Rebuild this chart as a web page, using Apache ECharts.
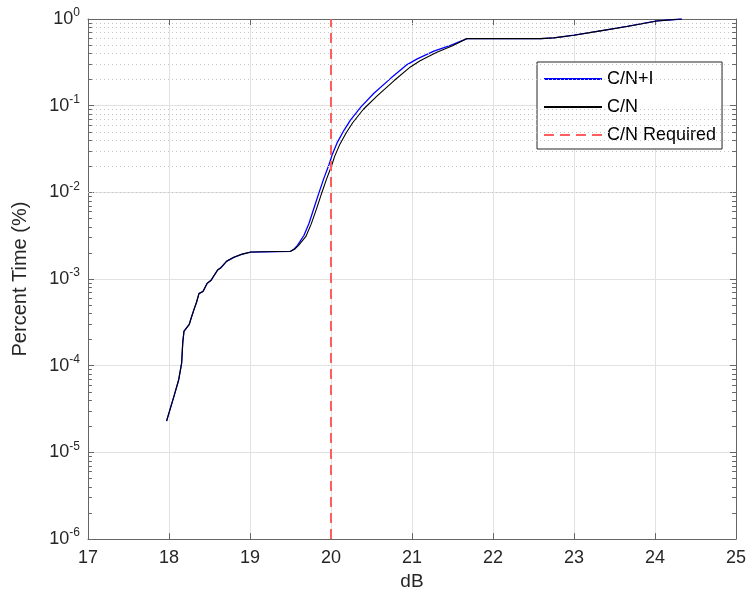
<!DOCTYPE html>
<html>
<head>
<meta charset="utf-8">
<script src="https://cdn.jsdelivr.net/npm/echarts@6/dist/echarts.min.js"></script>
<style>
  html, body { margin: 0; padding: 0; background: #fff; }
  #chart { width: 749px; height: 596px; }
</style>
</head>
<body>
<div id="chart"></div>
<script>
// C/N+I (blue)
const cniX = [17.97, 18.06, 18.12, 18.156, 18.17, 18.185, 18.25, 18.276, 18.31, 18.34, 18.37, 18.42, 18.47, 18.52,
  18.60, 18.64, 18.71, 18.80, 18.905, 19.01, 19.50, 19.54, 19.586, 19.667, 19.729, 19.79, 19.85, 19.914, 19.976,
  20.017, 20.08, 20.16, 20.24, 20.37, 20.53, 20.74, 20.94, 21.065, 21.27, 21.476, 21.68, 22.59, 22.75, 23.0,
  23.325, 23.655, 24.025, 24.33]
const cniY = [2.3e-5, 4.4e-5, 6.9e-5, 1.07e-4, 1.86e-4, 2.5e-4, 3.0e-4, 3.6e-4, 4.5e-4, 5.4e-4, 6.8e-4, 7.2e-4, 8.9e-4, 9.7e-4,
  1.27e-3, 1.35e-3, 1.6e-3, 1.78e-3, 1.94e-3, 2.05e-3, 2.09e-3, 2.2e-3, 2.45e-3, 3.2e-3, 4.4e-3, 6.6e-3, 9.8e-3, 1.47e-2, 2.1e-2,
  2.76e-2, 3.8e-2, 5.2e-2, 6.8e-2, 9.7e-2, 0.139, 0.208, 0.298, 0.347, 0.426, 0.497, 0.594, 0.594, 0.605, 0.65,
  0.73, 0.82, 0.95, 1.0]

// C/N (black)
const cnX = [17.97, 18.06, 18.12, 18.156, 18.17, 18.185, 18.25, 18.276, 18.31, 18.34, 18.37, 18.42, 18.47, 18.52,
  18.60, 18.64, 18.71, 18.80, 18.905, 19.01, 19.50, 19.55, 19.60, 19.69, 19.755, 19.82, 19.88, 19.945, 20.005,
  20.045, 20.11, 20.19, 20.27, 20.40, 20.57, 20.78, 20.98, 21.10, 21.30, 21.50, 21.68, 22.59, 22.75, 23.0,
  23.325, 23.655, 24.025, 24.33]
const cnY = [2.3e-5, 4.4e-5, 6.9e-5, 1.07e-4, 1.86e-4, 2.5e-4, 3.0e-4, 3.6e-4, 4.5e-4, 5.4e-4, 6.8e-4, 7.2e-4, 8.9e-4, 9.7e-4,
  1.27e-3, 1.35e-3, 1.6e-3, 1.78e-3, 1.94e-3, 2.05e-3, 2.09e-3, 2.2e-3, 2.45e-3, 3.1e-3, 4.3e-3, 6.4e-3, 9.5e-3, 1.42e-2, 2.0e-2,
  2.6e-2, 3.6e-2, 4.9e-2, 6.4e-2, 9.1e-2, 0.13, 0.195, 0.28, 0.33, 0.41, 0.49, 0.594, 0.594, 0.605, 0.65,
  0.73, 0.82, 0.95, 1.0]

// C/N required threshold
const requiredDb = 20

const xMin = 17
const xMax = 25
const yMinExp = -6
const yMaxExp = 0
const minorMults = [2, 3, 4, 5, 6, 7, 8, 9]

const font = "'Liberation Sans', Arial, Helvetica, sans-serif"
const axisColor = "#666666"
const textColor = "#262626"

const pairs = (xs, ys) => xs.map((x, i) => [x, ys[i]])

// 对数轴次刻度 2..9
const minorVals = []
for (let e = yMinExp; e < yMaxExp; e++) {
  minorMults.forEach((m) => minorVals.push(m * Math.pow(10, e)))
}
const minorGrid = minorVals.map((v) => ({ yAxis: v }))
const tickLen = (xMax - xMin) * 0.006
const minorTicks = []
minorVals.forEach((v) => {
  minorTicks.push([{ coord: [xMin, v] }, { coord: [xMin + tickLen, v] }])
  minorTicks.push([{ coord: [xMax - tickLen, v] }, { coord: [xMax, v] }])
})

const yMin = Math.pow(10, yMinExp)
const yMax = Math.pow(10, yMaxExp)

const chart = echarts.init(document.getElementById("chart"))

const option = {
  animation: false,
  textStyle: { fontFamily: font },
  grid: { left: 88, right: 11, top: 19, bottom: 47 },
  legend: {
    orient: "vertical",
    left: 537,
    top: 62,
    backgroundColor: "#fff",
    borderColor: "#262626",
    borderWidth: 1,
    borderRadius: 0,
    padding: [8, 6, 5, 6],
    itemWidth: 58,
    itemHeight: 14,
    itemGap: 10,
    itemStyle: { opacity: 0 },
    textStyle: { fontSize: 18, color: "#000", fontFamily: font },
    data: ["C/N+I", "C/N", "C/N Required"],
  },
  xAxis: [
    {
      type: "value",
      min: xMin,
      max: xMax,
      interval: 1,
      name: "dB",
      nameLocation: "middle",
      nameGap: 31,
      nameTextStyle: { fontSize: 19, color: textColor },
      axisLine: { show: true, onZero: false, lineStyle: { color: axisColor, width: 1 } },
      axisTick: { show: true, inside: true, length: 6, lineStyle: { color: axisColor } },
      axisLabel: { fontSize: 18, color: textColor, margin: 10 },
      splitLine: { show: true, lineStyle: { color: "#e2e2e2", width: 1 } },
    },
    {
      type: "value",
      position: "top",
      min: xMin,
      max: xMax,
      interval: 1,
      axisLine: { show: true, onZero: false, lineStyle: { color: axisColor, width: 1 } },
      axisTick: { show: true, inside: true, length: 6, lineStyle: { color: axisColor } },
      axisLabel: { show: false },
      splitLine: { show: false },
    },
  ],
  yAxis: [
    {
      type: "log",
      logBase: 10,
      min: yMin,
      max: yMax,
      splitNumber: 6,
      name: "Percent Time (%)",
      nameLocation: "middle",
      nameGap: 58,
      nameTextStyle: { fontSize: 20, color: textColor },
      axisLine: { show: true, onZero: false, lineStyle: { color: axisColor, width: 1 } },
      axisTick: { show: true, inside: true, length: 6, lineStyle: { color: axisColor } },
      axisLabel: {
        margin: 8,
        formatter: (v) => "{b|10}{s|" + Math.round(Math.log10(v)) + "}",
        rich: {
          b: { fontSize: 18, color: textColor, lineHeight: 24, fontFamily: font },
          s: { fontSize: 12, color: textColor, verticalAlign: "top", fontFamily: font },
        },
      },
      splitLine: { show: true, lineStyle: { color: "#e2e2e2", width: 1 } },
    },
    {
      type: "log",
      logBase: 10,
      position: "right",
      min: yMin,
      max: yMax,
      splitNumber: 6,
      axisLine: { show: true, onZero: false, lineStyle: { color: axisColor, width: 1 } },
      axisTick: { show: true, inside: true, length: 6, lineStyle: { color: axisColor } },
      axisLabel: { show: false },
      splitLine: { show: false },
    },
  ],
  series: [
    {
      name: "minor",
      type: "line",
      data: [],
      z: 1,
      silent: true,
      markLine: {
        silent: true,
        symbol: "none",
        animation: false,
        label: { show: false },
        lineStyle: { color: "#c4c4c4", width: 1, type: [1, 3] },
        data: minorGrid,
      },
    },
    {
      name: "minorTick",
      type: "line",
      data: [],
      z: 3,
      silent: true,
      markLine: {
        silent: true,
        symbol: "none",
        animation: false,
        label: { show: false },
        lineStyle: { color: axisColor, width: 1, type: "solid" },
        data: minorTicks,
      },
    },
    {
      name: "C/N+I",
      type: "line",
      data: pairs(cniX, cniY),
      symbol: "none",
      color: "#0000ff",
      lineStyle: { color: "#0000ff", width: 1.3 },
      z: 4,
    },
    {
      name: "C/N",
      type: "line",
      data: pairs(cnX, cnY),
      symbol: "none",
      color: "#000000",
      lineStyle: { color: "#000000", width: 1.1 },
      z: 5,
    },
    {
      name: "C/N Required",
      type: "line",
      data: [[requiredDb, yMin], [requiredDb, yMax]],
      symbol: "none",
      color: "#ff5e5e",
      lineStyle: { color: "#ff5e5e", width: 2, type: [10, 6] },
      z: 6,
    },
  ],
}

chart.setOption(option)
window.addEventListener("resize", () => chart.resize())
</script>
</body>
</html>
